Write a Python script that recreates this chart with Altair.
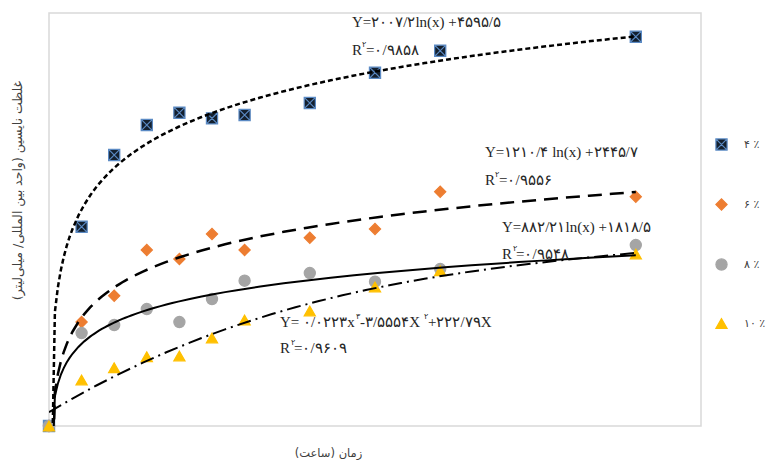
import altair as alt
import pandas as pd

# Sampling times (hours) and nisin concentration for each level
hours = [0, 1, 2, 3, 4, 5, 6, 8, 10, 12, 18]
nisin_4 = [0, 4584, 6233, 6923, 7206, 7077, 7153, 7429, 8126, 8632, 8954]
nisin_6 = [0, 2392, 2997, 4048, 3841, 4416, 4048, 4331, 4531, 5389, 5274]
nisin_8 = [0, 2139, 2323, 2691, 2392, 2921, 3342, 3519, 3319, 3611, 4163]
nisin_10 = [0, 1058, 1341, 1594, 1610, 2024, 2438, 2645, 3197, 3572, 3956]
series_labels = ["۴ ٪", "۶ ٪", "۸ ٪", "۱۰ ٪"]

x_title = "زمان (ساعت)\u200f"
y_title = "غلظت نایسین (واحد بین المللی/ میلی\u200cلیتر)\u200f"

rows = []
for lab, vals in zip(series_labels, [nisin_4, nisin_6, nisin_8, nisin_10]):
    for h, v in zip(hours, vals):
        rows.append({"hours": h, "conc": v, "series": lab})
df = pd.DataFrame(rows)

# Square with a diagonal cross for the first level
boxed_x = "M-1,-1H1V1H-1Z M-1,-1L1,1 M1,-1L-1,1"

x_scale = alt.Scale(domain=[0, 20], nice=False, zero=False)
y_scale = alt.Scale(domain=[0, 9500], nice=False)
x_axis = alt.Axis(title=x_title, labels=False, ticks=False, domain=False, grid=False,
                  titleFont="DejaVu Sans", titleFontSize=11.5, titleFontWeight="normal",
                  titleColor="#404040", titleX=279, titleY=27, titleAlign="center",
                  titleBaseline="middle")
y_axis = alt.Axis(title=y_title, labels=False, ticks=False, domain=False, grid=False,
                  titleFont="DejaVu Sans", titleFontSize=12.5, titleFontWeight="normal",
                  titleColor="#404040", titleX=-32, titleY=177, titleAlign="center",
                  titleBaseline="middle", titleAngle=270)

X = alt.X("hours:Q", scale=x_scale, axis=x_axis)
Y = alt.Y("conc:Q", scale=y_scale, axis=y_axis)

fill_scale = alt.Scale(domain=series_labels, range=["#14202e", "#ED7D31", "#A5A5A5", "#FFC000"])
stroke_scale = alt.Scale(domain=series_labels, range=["#5b8ac4", "#ED7D31", "#A5A5A5", "#FFC000"])
shape_scale = alt.Scale(domain=series_labels, range=[boxed_x, "diamond", "circle", "triangle-up"])

points = alt.Chart(df).mark_point(filled=True, opacity=1, size=125, strokeWidth=1.2).encode(
    x=X,
    y=Y,
    shape=alt.Shape("series:N", scale=shape_scale,
                    legend=alt.Legend(title=None, orient="none", legendX=666, legendY=125,
                                      labelFont="DejaVu Sans", labelFontSize=11,
                                      labelColor="#404040", rowPadding=43, labelOffset=16,
                                      symbolSize=125, symbolStrokeWidth=1.2)),
    fill=alt.Fill("series:N", scale=fill_scale),
    stroke=alt.Stroke("series:N", scale=stroke_scale),
)


def trend(label, method, dash, width, order=None, extent=None):
    base = alt.Chart(df).transform_filter(alt.datum.series == label)
    if method == "log":
        base = base.transform_filter(alt.datum.hours > 0)
    kw = {"method": method, "extent": extent}
    if order is not None:
        kw["order"] = order
    line_kw = {"color": "black", "strokeWidth": width, "clip": True}
    if dash:
        line_kw["strokeDash"] = dash
    return base.transform_regression("hours", "conc", **kw).mark_line(**line_kw).encode(x=X, y=Y)


trend_4 = trend(series_labels[0], "log", [5, 3], 2.5, extent=[0.001, 18])
trend_6 = trend(series_labels[1], "log", [14, 8], 2.5, extent=[0.001, 18])
trend_8 = trend(series_labels[2], "log", None, 2.0, extent=[0.001, 18])
trend_10 = trend(series_labels[3], "poly", [14, 5, 2, 5], 2.0, order=3, extent=[0, 18])

# Fitted equations and R² values: anchor (data units), text, and piece kind
eq_rows = [
    (9.294, 9292, "Y=۲۰۰۷/۲ln(x) +۴۵۹۵/۵", "main"),
    (9.294, 8648, "R", "main"), (9.294, 8648, "۲", "sup_r"), (9.294, 8648, "=۰/۹۸۵۸", "r_val"),
    (13.374, 6302, "Y=۱۲۱۰/۴ ln(x) +۲۴۴۵/۷", "main"),
    (13.374, 5658, "R", "main"), (13.374, 5658, "۲", "sup_r"), (13.374, 5658, "=۰/۹۵۵۶", "r_val"),
    (13.896, 4584, "Y=۸۸۲/۲۱ln(x) +۱۸۱۸/۵", "main"),
    (13.896, 3956, "R", "main"), (13.896, 3956, "۲", "sup_r"), (13.896, 3956, "=۰/۹۵۴۸", "r_val"),
    (7.086, 2392, "Y= ۰/۰۲۲۳x", "main"), (7.086, 2392, "۳", "sup_a"),
    (7.086, 2392, "-۳/۵۵۵۴X", "term_b"), (7.086, 2392, "۲", "sup_b"),
    (7.086, 2392, "+۲۲۲/۷۹X", "term_c"),
    (7.086, 1794, "R", "main"), (7.086, 1794, "۲", "sup_r"), (7.086, 1794, "=۰/۹۶۰۹", "r_val"),
]
eq_df = pd.DataFrame(eq_rows, columns=["hours", "conc", "txt", "kind"])

# pixel nudge and font size per piece kind
piece_style = {
    "main": (0, 0, 15),
    "sup_r": (10.5, -5, 8),
    "r_val": (14, 0, 15),
    "sup_a": (75.5, -5, 8),
    "term_b": (80, 0, 15),
    "sup_b": (143.5, -5, 8),
    "term_c": (148, 0, 15),
}

eq_layers = []
for kind, (dx, dy, fs) in piece_style.items():
    eq_layers.append(
        alt.Chart(eq_df).transform_filter(alt.datum.kind == kind)
        .mark_text(align="left", baseline="middle", font="Liberation Serif",
                   color="#262626", dx=dx, dy=dy, fontSize=fs)
        .encode(x=X, y=Y, text="txt:N")
    )

chart = alt.layer(points, trend_4, trend_6, trend_8, trend_10, *eq_layers).properties(
    width=652, height=413, autosize="none",
    padding={"left": 49, "top": 13, "right": 73, "bottom": 37},
    background="white",
).configure_view(stroke="#d9d9d9", strokeWidth=1.5)

chart.save("out.html", embed_options={"renderer": "svg", "actions": False})
